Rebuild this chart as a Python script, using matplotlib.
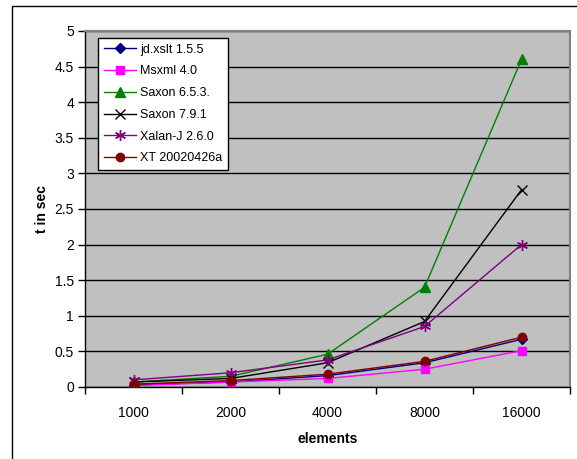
import matplotlib
matplotlib.use("Agg")
import matplotlib.pyplot as plt
from matplotlib.patches import Rectangle

plt.rcParams["font.family"] = ["Liberation Sans", "DejaVu Sans"]

# Data
elements = ["1000", "2000", "4000", "8000", "16000"]
jd_xslt = [0.03, 0.07, 0.16, 0.34, 0.67]
msxml = [0.02, 0.07, 0.12, 0.25, 0.51]
saxon_653 = [0.07, 0.15, 0.46, 1.40, 4.60]
saxon_791 = [0.07, 0.12, 0.34, 0.92, 2.77]
xalan = [0.10, 0.20, 0.38, 0.85, 2.00]
xt = [0.04, 0.09, 0.18, 0.36, 0.70]

series = [
    ("jd.xslt 1.5.5", jd_xslt, "#000080", "D", 5),
    ("Msxml 4.0", msxml, "#FF00FF", "s", 6),
    ("Saxon 6.5.3.", saxon_653, "#008000", "^", 7),
    ("Saxon 7.9.1", saxon_791, "#000000", "x", 7),
    ("Xalan-J 2.6.0", xalan, "#800080", (6, 2, 0), 8),
    ("XT 20020426a", xt, "#800000", "o", 6),
]

W, H = 577, 459
fig = plt.figure(figsize=(W / 100, H / 100), dpi=100)
fig.patch.set_facecolor("white")

# outer chart border (only left/top visible in the reference)
fig.add_artist(Rectangle((12 / W, -0.5), 2.0, 1.5 - 6 / H,
                         transform=fig.transFigure, fill=False,
                         edgecolor="black", linewidth=1.0))

ax = fig.add_axes([85 / W, (H - 387) / H, 485 / W, 356 / H])
ax.set_facecolor("#C0C0C0")

x = list(range(len(elements)))
for name, vals, color, marker, ms in series:
    ax.plot(x, vals, color=color, linewidth=1.0, marker=marker,
            markersize=ms, markeredgewidth=1.0, label=name, zorder=3)

ax.set_xlim(-0.5, len(elements) - 0.5)
ax.set_ylim(0, 5)
ax.set_yticks([0, 0.5, 1, 1.5, 2, 2.5, 3, 3.5, 4, 4.5, 5])
ax.set_yticklabels(["0", "0.5", "1", "1.5", "2", "2.5", "3", "3.5", "4", "4.5", "5"])
ax.yaxis.grid(True, color="black", linewidth=1.0, zorder=1)
ax.set_axisbelow(True)

ax.set_xticks(x)
ax.set_xticklabels(elements)
ax.set_xticks([i + 0.5 for i in range(-1, len(elements))], minor=True)
ax.tick_params(axis="x", which="major", length=0, pad=14, labelsize=10)
ax.tick_params(axis="x", which="minor", length=5, direction="out", width=1)
ax.tick_params(axis="y", length=5, direction="out", width=1, labelsize=10, pad=3)

for side in ("top", "right"):
    ax.spines[side].set_color("#808080")
    ax.spines[side].set_linewidth(1.5)
for side in ("left", "bottom"):
    ax.spines[side].set_color("black")
    ax.spines[side].set_linewidth(1.0)

ax.set_xlabel("elements", fontsize=10, fontweight="bold", labelpad=8)
ax.set_ylabel("t in sec", fontsize=10, fontweight="bold", labelpad=4)

leg = ax.legend(loc="upper left", bbox_to_anchor=(13 / 485, 1 - 7 / 356),
                fontsize=9, frameon=True, fancybox=False, edgecolor="black",
                framealpha=1, borderpad=0.45, labelspacing=0.78,
                handlelength=2.6, handletextpad=0.35, borderaxespad=0)
leg.get_frame().set_linewidth(1.0)

fig.savefig("out.png", dpi=100)
